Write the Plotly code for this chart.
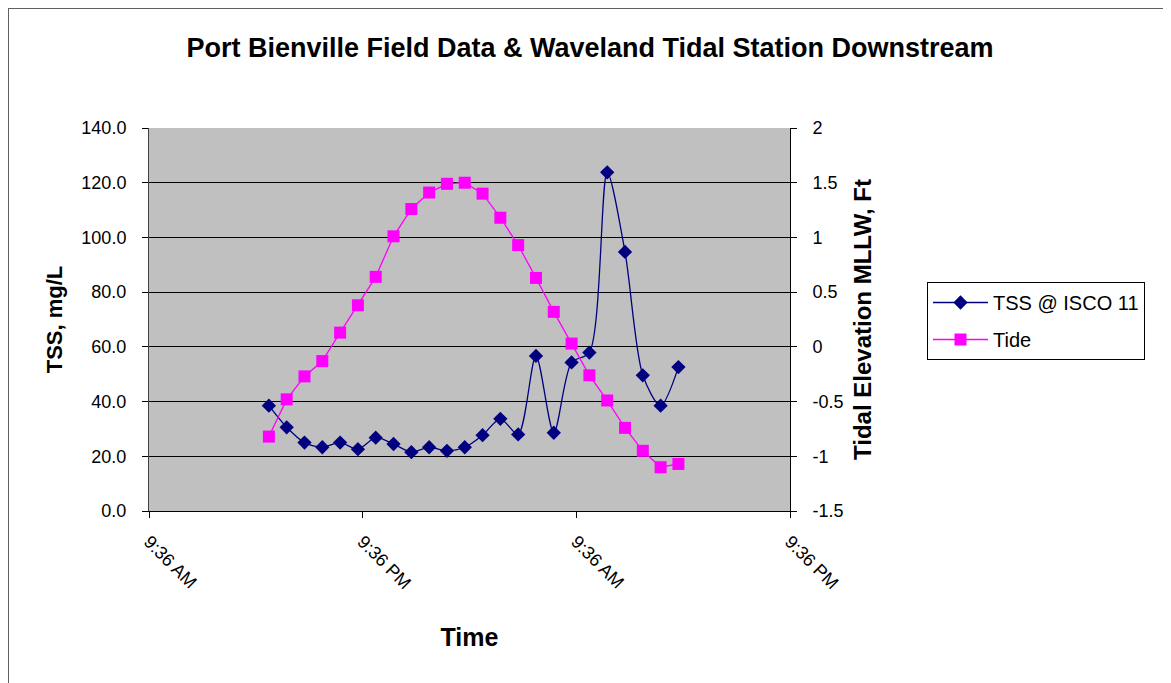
import plotly.graph_objects as go

times = [
    "2007-06-12 16:20", "2007-06-12 17:20", "2007-06-12 18:20", "2007-06-12 19:20",
    "2007-06-12 20:20", "2007-06-12 21:20", "2007-06-12 22:20", "2007-06-12 23:20",
    "2007-06-13 00:20", "2007-06-13 01:20", "2007-06-13 02:20", "2007-06-13 03:20",
    "2007-06-13 04:20", "2007-06-13 05:20", "2007-06-13 06:20", "2007-06-13 07:20",
    "2007-06-13 08:20", "2007-06-13 09:20", "2007-06-13 10:20", "2007-06-13 11:20",
    "2007-06-13 12:20", "2007-06-13 13:20", "2007-06-13 14:20", "2007-06-13 15:20",
]
tss = [38.5, 30.6, 25.0, 23.3, 25.0, 22.6, 26.8, 24.5, 21.5, 23.3, 22.0, 23.3,
       27.7, 33.7, 28.0, 56.7, 28.6, 54.3, 57.9, 123.8, 94.7, 49.6, 38.5, 52.6]
tide = [-0.82, -0.48, -0.27, -0.13, 0.13, 0.38, 0.64, 1.01, 1.26, 1.41, 1.49, 1.50,
        1.40, 1.18, 0.93, 0.63, 0.32, 0.03, -0.26, -0.49, -0.74, -0.95, -1.10, -1.07]
tide_ticks = [-1.5, -1, -0.5, 0, 0.5, 1, 1.5, 2]
tide_tick_text = ["-1.5", "-1", "-0.5", "0", "0.5", "1", "1.5", "2"]

x_range = ["2007-06-12 09:36", "2007-06-13 21:36"]
FONT = "Liberation Sans, Arial, sans-serif"

fig = go.Figure()
fig.add_trace(go.Scatter(
    x=times, y=tss, name="TSS @ ISCO 11", mode="lines+markers", legendgroup="tss",
    line=dict(color="#000080", width=1.3, shape="spline", smoothing=0.8),
    marker=dict(symbol="diamond", size=11, color="#000080"),
))
fig.add_trace(go.Scatter(
    x=times, y=tide, name="Tide", mode="lines+markers", yaxis="y2", legendgroup="tide",
    line=dict(color="#FF00FF", width=1.3),
    marker=dict(symbol="square", size=12, color="#FF00FF"),
))

OFF = 8  # page offset of the figure inside the window
W, H = 1171 - OFF, 683 - OFF
L, R, T, B = 149 - OFF, 790 - OFF, 128 - OFF, 511 - OFF
pw, ph = R - L, B - T

def px_x(p):
    return (p - OFF - L) / pw

def px_y(p):
    return (B - (p - OFF)) / ph

fig.update_layout(
    width=W, height=H,
    margin=dict(l=L, r=W - R, t=T, b=H - B, pad=0),
    paper_bgcolor="white", plot_bgcolor="#C0C0C0",
    font=dict(family=FONT, size=18, color="black"),
    title=dict(text="<b>Port Bienville Field Data & Waveland Tidal Station Downstream</b>",
               x=(590 - OFF) / W, xanchor="center", y=1 - (48 - OFF) / H, yanchor="middle",
               font=dict(size=27)),
    showlegend=True,
    legend=dict(x=px_x(927), y=px_y(282), xanchor="left", yanchor="top",
                bgcolor="white", bordercolor="black", borderwidth=1,
                font=dict(size=20), tracegroupgap=8, itemwidth=55),
    xaxis=dict(type="date", range=x_range, tick0=x_range[0], dtick=43200000,
               tickformat="%-I:%M %p", tickangle=45, ticks="outside", ticklen=6,
               tickcolor="black", showline=True, linecolor="black", linewidth=1,
               showgrid=False, zeroline=False, tickfont=dict(size=18),
               ticklabelstandoff=6,
               title=dict(text="<b>Time</b>", font=dict(size=25), standoff=36)),
    yaxis=dict(range=[0, 140], dtick=20, tickformat=".1f", ticks="outside", ticklen=6,
               tickcolor="black", showline=True, linecolor="#404040", linewidth=1,
               showgrid=True, gridcolor="black", gridwidth=1, zeroline=False,
               tickfont=dict(size=18), ticklabelstandoff=12,
               title=dict(text="<b>TSS, mg/L</b>", font=dict(size=22), standoff=12)),
    yaxis2=dict(range=[-1.5, 2], tickvals=tide_ticks, ticktext=tide_tick_text,
                overlaying="y", side="right",
                ticks="outside", ticklen=6, tickcolor="black", showline=True,
                linecolor="black", linewidth=1, showgrid=False, zeroline=False,
                tickfont=dict(size=18), ticklabelstandoff=12,
                title=dict(text="<b>Tidal Elevation MLLW, Ft</b>", font=dict(size=24), standoff=11)),
    shapes=[dict(type="rect", xref="paper", yref="paper",
                 x0=px_x(8), x1=px_x(1168), y0=px_y(700), y1=px_y(8),
                 line=dict(color="#606060", width=2), fillcolor="rgba(0,0,0,0)", layer="below")],
)

fig.write_html("out.html")
